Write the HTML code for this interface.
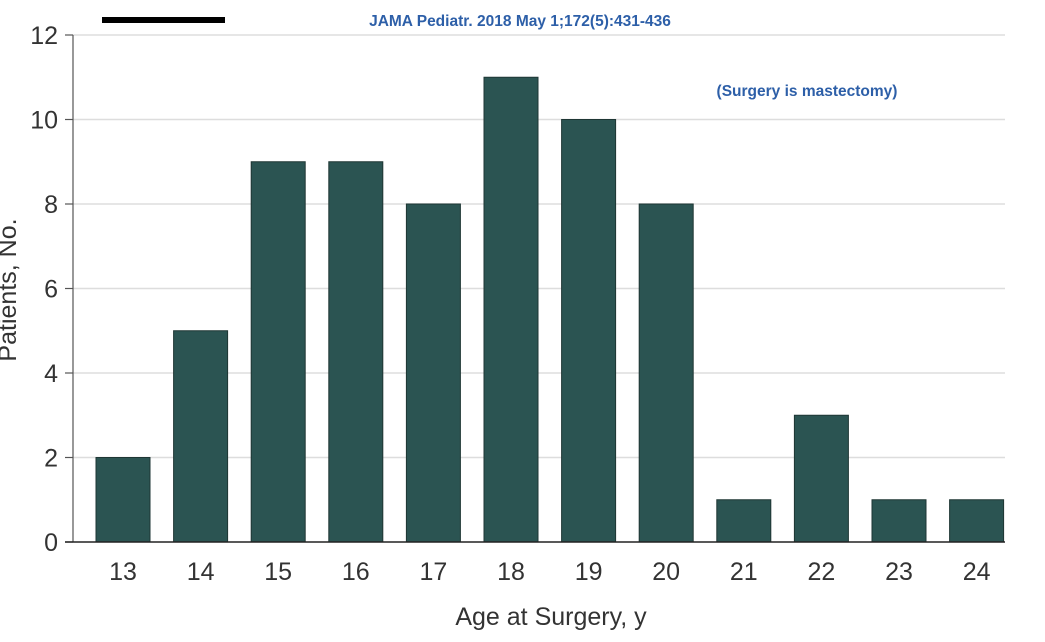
<!DOCTYPE html>
<html><head><meta charset="utf-8"><style>
body{margin:0;background:#fff;width:1045px;height:637px;overflow:hidden}
svg text{font-family:"Liberation Sans","DejaVu Sans",sans-serif}
</style></head><body>
<svg id="chart" width="1045" height="637" viewBox="0 0 1045 637">
<rect x="102" y="17" width="123" height="6" fill="#000"/>
<text x="520" y="26" font-size="15.5" font-weight="bold" fill="#2d5fa8" text-anchor="middle">JAMA Pediatr. 2018 May 1;172(5):431-436</text>
<text x="807" y="96" font-size="15.5" font-weight="bold" fill="#2d5fa8" text-anchor="middle">(Surgery is mastectomy)</text>
<g id="grid"></g><g id="bars"></g><g id="axes"></g>
<text x="551" y="625" font-size="25" fill="#333" text-anchor="middle">Age at Surgery, y</text>
<text transform="translate(16,290) rotate(-90)" font-size="25" fill="#333" text-anchor="middle">Patients, No.</text>
</svg>
<script>
const categories=["13","14","15","16","17","18","19","20","21","22","23","24"];
const values=[2,5,9,9,8,11,10,8,1,3,1,1];
const yTicks=[0,2,4,6,8,10,12];
const NS="http://www.w3.org/2000/svg";
const y0=542,y12=35,axX=73,right=1005;
const y=v=>y0-(y0-y12)*v/12;
const xc=i=>123+i*77.6;
function mk(tag,attrs,parent){const e=document.createElementNS(NS,tag);for(const k in attrs)e.setAttribute(k,attrs[k]);document.getElementById(parent).appendChild(e);return e;}
yTicks.forEach(t=>{
  if(t>0){const g=mk('line',{x1:axX,x2:right,y1:y(t),y2:y(t),stroke:'#ddd','stroke-width':1.5},'grid');
  
  }
  const tk=mk('line',{x1:65,x2:axX,y1:y(t),y2:y(t),stroke:'#555','stroke-width':1.2},'axes');
  
  
  const l=mk('text',{x:58,y:y(t)+9,'font-size':25,fill:'#333','text-anchor':'end'},'axes');
  l.textContent=t;
  
  
});
values.forEach((v,i)=>{
  const r=mk('rect',{x:xc(i)-27,y:y(v),width:54,height:y0-y(v),fill:'#2b5452',stroke:'#1e3634','stroke-width':1},'bars');
  
  
  const l=mk('text',{x:xc(i),y:580,'font-size':25,fill:'#333','text-anchor':'middle'},'axes');
  l.textContent=categories[i];
  
  
});
const ya=mk('line',{x1:axX,x2:axX,y1:y12,y2:y0,stroke:'#555','stroke-width':1.2},'axes');


const xa=mk('line',{x1:65,x2:right,y1:y0,y2:y0,stroke:'#222','stroke-width':1.5},'axes');


</script>
</body></html>
